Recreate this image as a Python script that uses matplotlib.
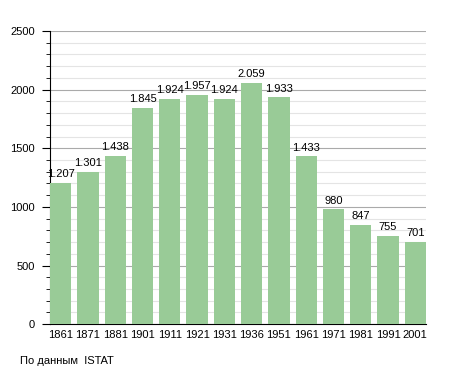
import numpy as np
import matplotlib
matplotlib.use('Agg')
from matplotlib import pyplot as plt
from matplotlib.ticker import MultipleLocator

years = ['1861', '1871', '1881', '1901', '1911', '1921', '1931', '1936',
         '1951', '1961', '1971', '1981', '1991', '2001']
population = [1207, 1301, 1438, 1845, 1924, 1957, 1924, 2059,
              1933, 1433, 980, 847, 755, 701]
bar_labels = ['1.207', '1.301', '1.438', '1.845', '1.924', '1.957', '1.924',
              '2.059', '1.933', '1.433', '980', '847', '755', '701']

plt.rcParams['font.family'] = ['Liberation Sans', 'DejaVu Sans']

fig = plt.figure(figsize=(4.55, 3.73), dpi=100)
ax = fig.add_axes([0.110, 0.131, 0.826, 0.786])

x = np.arange(len(years))
bw = 0.78
ax.bar(x, population, width=bw, color='#99cb97', zorder=3)
for xi, v, lab in zip(x, population, bar_labels):
    ax.text(xi, v + 30, lab, ha='center', va='bottom', fontsize=8, zorder=4)

ax.set_xlim(-bw / 2, len(years) - 1 + bw / 2)
ax.set_ylim(0, 2500)
ax.set_xticks(x)
ax.set_xticklabels(years, fontsize=8)
ax.yaxis.set_major_locator(MultipleLocator(500))
ax.yaxis.set_minor_locator(MultipleLocator(100))
ax.tick_params(axis='y', which='major', labelsize=8, length=6, pad=5)
ax.tick_params(axis='y', which='minor', length=3)
ax.tick_params(axis='x', length=0, pad=4)
ax.grid(axis='y', which='major', color='#aaaaaa', linewidth=0.8, zorder=0)
ax.grid(axis='y', which='minor', color='#e4e4e4', linewidth=0.8, zorder=0)
for s in ['top', 'right']:
    ax.spines[s].set_visible(False)

fig.text(20 / 455, 1 - 361 / 373, 'По данным  ISTAT', fontsize=8, va='center')

plt.savefig('out.png', dpi=100)
